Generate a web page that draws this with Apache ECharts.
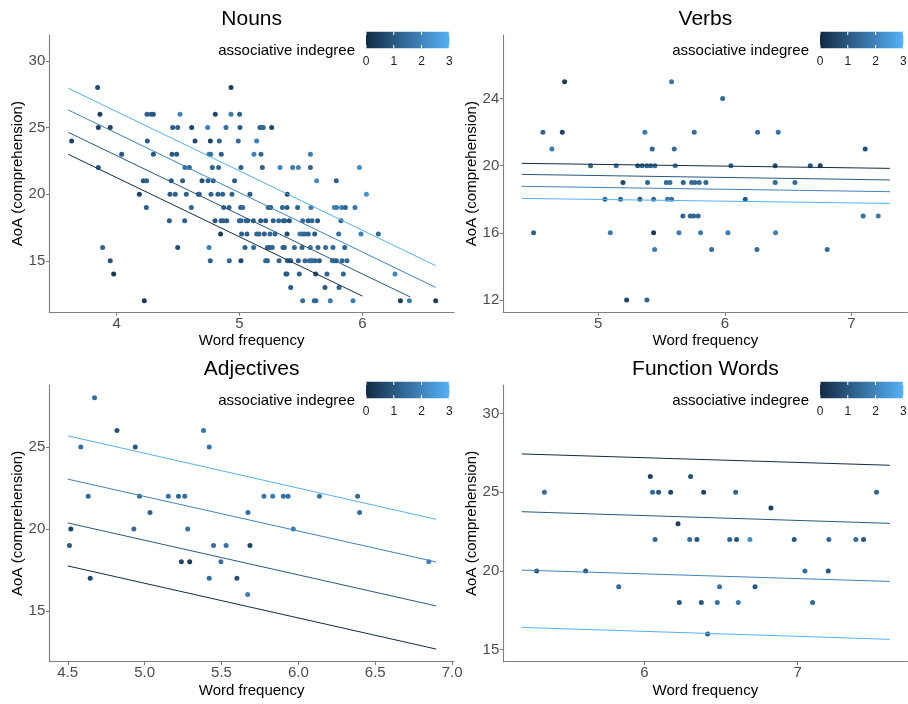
<!DOCTYPE html>
<html>
<head>
<meta charset="utf-8">
<script src="https://cdn.jsdelivr.net/npm/echarts@6/dist/echarts.min.js"></script>
<style>
  html, body { margin: 0; padding: 0; background: #ffffff; }
  #chart { width: 908px; height: 704px; }
</style>
</head>
<body>
<div id="chart"></div>
<script>
// ---- Nouns: AoA levels, word frequency per level, associative indegree per point
const nounsAoALevels = [28, 26, 25, 24, 23, 22, 21, 20, 19, 18, 17, 16, 15, 14, 13, 12];
const nounsFreq = [
  [3.845, 4.931],
  [3.864, 4.247, 4.280, 4.299, 4.516, 4.803, 4.931, 5.001],
  [3.851, 3.948, 4.456, 4.497, 4.611, 4.741, 4.890, 5.004, 5.167, 5.180, 5.194, 5.262],
  [3.634, 4.250, 4.638, 4.763, 4.836, 4.990, 5.140],
  [4.041, 4.299, 4.451, 4.489, 4.752, 4.765, 4.852, 5.118, 5.175, 5.577],
  [3.851, 4.556, 4.592, 4.779, 4.830, 5.012, 5.186, 5.330, 5.433, 5.479, 5.577, 5.976],
  [4.217, 4.244, 4.445, 4.537, 4.695, 4.744, 4.787, 4.960, 5.628, 5.788],
  [4.185, 4.434, 4.477, 4.567, 4.665, 4.673, 4.768, 4.825, 4.863, 4.939, 5.085, 5.389, 6.033],
  [4.242, 4.608, 4.871, 4.915, 5.009, 5.026, 5.235, 5.254, 5.349, 5.387, 5.473, 5.582, 5.772, 5.791, 5.832, 5.862, 5.940],
  [4.429, 4.554, 4.801, 4.850, 4.869, 4.896, 4.999, 5.013, 5.053, 5.067, 5.113, 5.172, 5.213, 5.275, 5.319, 5.357, 5.368, 5.406, 5.514, 5.558, 5.590, 5.636, 5.826],
  [4.846, 5.017, 5.061, 5.140, 5.159, 5.202, 5.248, 5.289, 5.387, 5.492, 5.514, 5.533, 5.560, 5.612, 5.807, 5.989, 6.130],
  [3.886, 4.497, 4.752, 5.045, 5.115, 5.227, 5.243, 5.267, 5.354, 5.365, 5.447, 5.509, 5.577, 5.639, 5.701, 5.761, 5.856],
  [3.948, 4.762, 4.917, 5.012, 5.213, 5.227, 5.322, 5.389, 5.405, 5.417, 5.479, 5.533, 5.569, 5.582, 5.593, 5.615, 5.650, 5.756, 5.770, 5.789, 5.835, 5.875],
  [3.976, 5.378, 5.386, 5.487, 5.620, 5.712, 5.845, 6.266],
  [5.417, 5.696, 5.810],
  [4.225, 5.514, 5.609, 5.622, 5.739, 5.924, 6.310, 6.383, 6.597]
];
const nounsIndegree = [
  [0.8, 0.5],
  [0.5, 1.2, 1.2, 1.0, 2.0, 0.6, 1.8, 1.2],
  [0.5, 0.5, 1.1, 1.2, 0.6, 1.9, 1.5, 1.1, 1.2, 1.3, 1.4, 0.6],
  [0.6, 1.1, 0.7, 0.6, 1.3, 1.5, 1.9],
  [1.0, 1.0, 1.0, 1.0, 1.9, 1.5, 1.1, 1.9, 1.3, 1.8],
  [1.0, 1.6, 1.3, 1.2, 1.3, 1.2, 1.2, 2.0, 1.8, 2.0, 1.3, 2.2],
  [1.0, 1.2, 1.0, 1.2, 0.8, 1.2, 1.2, 1.1, 2.2, 1.2],
  [0.5, 1.1, 1.2, 1.2, 1.2, 1.2, 1.2, 1.2, 1.2, 1.2, 1.0, 0.6, 2.3],
  [1.2, 1.3, 1.3, 1.2, 1.3, 1.4, 1.2, 1.2, 1.4, 1.2, 1.2, 1.8, 2.0, 1.9, 1.8, 1.3, 1.7],
  [1.1, 1.2, 1.0, 1.2, 1.2, 1.1, 1.2, 1.3, 1.4, 1.2, 1.2, 1.1, 1.0, 1.1, 1.3, 1.2, 1.1, 0.8, 1.5, 1.2, 1.3, 1.0, 1.3],
  [0.4, 1.2, 1.2, 1.4, 1.3, 1.2, 1.4, 1.4, 0.8, 1.7, 1.5, 1.4, 1.3, 1.1, 1.5, 1.9, 1.4],
  [1.3, 0.7, 1.9, 1.2, 1.4, 1.3, 1.3, 1.3, 1.2, 1.2, 1.4, 1.3, 1.7, 1.3, 1.5, 1.4, 1.2],
  [0.9, 1.2, 1.4, 0.7, 1.3, 1.3, 1.2, 1.3, 1.2, 1.1, 1.2, 1.3, 1.4, 1.4, 1.5, 1.3, 1.1, 1.3, 1.6, 1.2, 1.3, 1.4],
  [0.3, 1.0, 1.1, 1.2, 0.8, 1.2, 1.3, 2.0],
  [1.0, 1.1, 1.3],
  [0.3, 1.5, 1.4, 1.4, 1.8, 1.8, 0.4, 1.8, 0.4]
];

// ---- Verbs
const verbsAoALevels = [25, 24, 22, 21, 20, 19, 18, 17, 16, 15, 12];
const verbsFreq = [
  [4.734, 5.579],
  [5.982],
  [4.563, 4.716, 5.368, 5.758, 6.258, 6.421],
  [4.634, 5.426, 5.600, 7.108],
  [4.939, 5.142, 5.311, 5.347, 5.384, 5.413, 5.447, 5.608, 6.047, 6.397, 6.674, 6.753],
  [5.195, 5.389, 5.537, 5.566, 5.671, 5.737, 5.763, 5.797, 5.850, 6.397, 6.553],
  [5.053, 5.176, 5.329, 5.437, 5.547, 5.579, 6.161],
  [5.668, 5.726, 5.753, 5.789, 7.092, 7.211],
  [4.489, 5.095, 5.437, 5.637, 5.808, 6.024, 6.400],
  [5.445, 5.895, 6.253, 6.808],
  [5.224, 5.384]
];
const verbsIndegree = [
  [0.4, 1.7],
  [1.4],
  [1.3, 0.5, 1.8, 1.5, 1.5, 1.6],
  [1.8, 1.2, 1.5, 0.8],
  [1.3, 1.5, 1.0, 1.2, 1.3, 1.3, 1.5, 1.6, 1.3, 0.7, 1.0, 0.5],
  [0.6, 1.3, 1.4, 1.5, 1.3, 1.4, 1.4, 1.4, 1.3, 1.4, 1.5],
  [1.5, 1.3, 1.0, 1.4, 1.7, 1.5, 1.0],
  [1.3, 1.4, 1.3, 1.3, 1.6, 1.8],
  [1.3, 1.8, 0.4, 1.8, 1.8, 1.8, 1.9],
  [1.9, 1.5, 1.5, 1.5],
  [0.6, 1.3]
];

// ---- Adjectives
const adjAoALevels = [28, 26, 25, 22, 21, 20, 19, 18, 17, 16];
const adjFreq = [
  [4.674],
  [4.820, 5.383],
  [4.585, 4.939, 5.420],
  [4.633, 4.967, 5.154, 5.220, 5.261, 5.776, 5.833, 5.902, 5.933, 6.137, 6.385],
  [5.035, 5.672, 6.398],
  [4.520, 4.930, 5.280, 5.967],
  [4.511, 5.448, 5.530, 5.685],
  [5.239, 5.293, 5.496, 6.848],
  [4.646, 5.420, 5.600],
  [5.670]
];
const adjIndegree = [
  [1.5],
  [0.9, 1.6],
  [1.5, 1.0, 1.6],
  [1.4, 1.5, 1.6, 1.4, 1.5, 1.7, 1.8, 1.6, 1.5, 1.6, 1.4],
  [1.3, 1.5, 1.5],
  [0.5, 1.5, 1.6, 1.8],
  [1.1, 1.5, 1.6, 0.6],
  [0.6, 0.4, 1.5, 2.0],
  [0.6, 1.5, 0.8],
  [1.9]
];

// ---- Function words
const funcAoALevels = [26, 25, 24, 23, 22, 20, 19, 18, 16];
const funcFreq = [
  [6.039, 6.302],
  [5.348, 6.054, 6.093, 6.172, 6.387, 6.596, 7.515],
  [6.826],
  [6.220],
  [6.070, 6.296, 6.343, 6.557, 6.602, 6.689, 6.978, 7.204, 7.380, 7.430],
  [5.298, 5.617, 7.048, 7.200],
  [5.833, 6.491, 6.722],
  [6.228, 6.372, 6.476, 6.613, 7.098],
  [6.413]
];
const funcIndegree = [
  [0.5, 0.9],
  [1.5, 1.4, 1.0, 0.6, 0.6, 1.3, 1.3],
  [0.4],
  [0.5],
  [1.4, 1.5, 1.0, 1.3, 1.0, 2.2, 1.0, 1.4, 1.5, 1.0],
  [1.0, 1.0, 1.5, 1.0],
  [1.4, 1.6, 1.0],
  [1.0, 1.0, 1.6, 1.8, 1.4],
  [1.2]
];

// ---- Model fits at indegree 0, 1, 2, 3: start/end frequency and predicted AoA
const fitIndegree = [0, 1, 2, 3];
const nounsFitX0 = [3.607, 3.607, 3.607, 3.607];
const nounsFitX1 = [6.000, 6.390, 6.597, 6.597];
const nounsFitY0 = [22.99, 24.64, 26.32, 27.95];
const nounsFitY1 = [12.35, 12.28, 13.00, 14.63];

const verbsFitX0 = [4.395, 4.395, 4.395, 4.395];
const verbsFitX1 = [7.303, 7.303, 7.303, 7.303];
const verbsFitY0 = [20.14, 19.48, 18.77, 18.05];
const verbsFitY1 = [19.84, 19.15, 18.45, 17.75];

const adjFitX0 = [4.500, 4.500, 4.500, 4.500];
const adjFitX1 = [6.896, 6.896, 6.896, 6.896];
const adjFitY0 = [17.75, 20.37, 23.04, 25.68];
const adjFitY1 = [12.68, 15.31, 17.99, 20.59];

const funcFitX0 = [5.200, 5.200, 5.200, 5.200];
const funcFitX1 = [7.602, 7.602, 7.602, 7.602];
const funcFitY0 = [27.44, 23.77, 20.06, 16.42];
const funcFitY1 = [26.72, 23.03, 19.34, 15.66];

// ---- Axis ticks
const nounsXTicks = [4, 5, 6];
const nounsYTicks = [15, 20, 25, 30];
const verbsXTicks = [5, 6, 7];
const verbsYTicks = [12, 16, 20, 24];
const adjXTicks = [4.5, 5.0, 5.5, 6.0, 6.5, 7.0];
const adjYTicks = [15, 20, 25];
const funcXTicks = [6, 7];
const funcYTicks = [15, 20, 25, 30];
const indegreeTicks = [0, 1, 2, 3];
const indegreeMax = 3;

// ---- Styling
const FONT = "'Liberation Sans', Arial, Helvetica, sans-serif";
const LOW = [19, 43, 67];     // #132B43
const HIGH = [86, 177, 247];  // #56B1F7
const AXIS_GREY = '#808080';
const TICK_TEXT = '#4D4D4D';

function indegreeColor(v) {
  const t = Math.max(0, Math.min(1, v / indegreeMax));
  const c = LOW.map((lo, k) => Math.round(lo + (HIGH[k] - lo) * t));
  return 'rgb(' + c.join(',') + ')';
}

function flatten(levels, freq, deg) {
  const pts = [];
  levels.forEach((aoa, r) => {
    freq[r].forEach((f, j) => pts.push([f, aoa, deg[r][j]]));
  });
  return pts;
}

const panels = [
  {
    title: 'Nouns', levels: nounsAoALevels, freq: nounsFreq, deg: nounsIndegree,
    fit: [nounsFitX0, nounsFitX1, nounsFitY0, nounsFitY1],
    xTicks: nounsXTicks, yTicks: nounsYTicks, xFmt: v => String(v),
    xRange: [3.452, 6.746], yRange: [11.13, 31.95],
    box: { left: 49.3, top: 35, width: 404.7, height: 277.3 }
  },
  {
    title: 'Verbs', levels: verbsAoALevels, freq: verbsFreq, deg: verbsIndegree,
    fit: [verbsFitX0, verbsFitX1, verbsFitY0, verbsFitY1],
    xTicks: verbsXTicks, yTicks: verbsYTicks, xFmt: v => String(v),
    xRange: [4.25, 7.442], yRange: [11.26, 27.79],
    box: { left: 503.3, top: 35, width: 404.2, height: 277.3 }
  },
  {
    title: 'Adjectives', levels: adjAoALevels, freq: adjFreq, deg: adjIndegree,
    fit: [adjFitX0, adjFitX1, adjFitY0, adjFitY1],
    xTicks: adjXTicks, yTicks: adjYTicks, xFmt: v => Number(v).toFixed(1),
    xRange: [4.38, 7.012], yRange: [11.91, 28.78],
    box: { left: 49.3, top: 385, width: 404.7, height: 276.7 }
  },
  {
    title: 'Function Words', levels: funcAoALevels, freq: funcFreq, deg: funcIndegree,
    fit: [funcFitX0, funcFitX1, funcFitY0, funcFitY1],
    xTicks: funcXTicks, yTicks: funcYTicks, xFmt: v => String(v),
    xRange: [5.08, 7.717], yRange: [14.24, 31.82],
    box: { left: 503.3, top: 385, width: 404.2, height: 276.7 }
  }
];

const grid = [], xAxis = [], yAxis = [], series = [], graphic = [];

panels.forEach((p, i) => {
  const b = p.box;
  grid.push({ left: b.left, top: b.top, width: b.width, height: b.height, containLabel: false });

  xAxis.push({
    gridIndex: i, type: 'value', min: p.xRange[0], max: p.xRange[1],
    axisLine: { show: true, onZero: false, lineStyle: { color: AXIS_GREY, width: 1.1 } },
    axisTick: { show: true, length: 3.5, customValues: p.xTicks, lineStyle: { color: AXIS_GREY, width: 1.1 } },
    axisLabel: { customValues: p.xTicks, formatter: p.xFmt, fontSize: 15, color: TICK_TEXT, fontFamily: FONT, margin: 4 },
    splitLine: { show: false }
  });
  yAxis.push({
    gridIndex: i, type: 'value', min: p.yRange[0], max: p.yRange[1],
    axisLine: { show: true, onZero: false, lineStyle: { color: AXIS_GREY, width: 1.1 } },
    axisTick: { show: true, length: 3.5, customValues: p.yTicks, lineStyle: { color: AXIS_GREY, width: 1.1 } },
    axisLabel: { customValues: p.yTicks, fontSize: 15, color: TICK_TEXT, fontFamily: FONT, margin: 4 },
    splitLine: { show: false }
  });

  series.push({
    type: 'scatter', xAxisIndex: i, yAxisIndex: i, symbol: 'circle', symbolSize: 5,
    data: flatten(p.levels, p.freq, p.deg),
    itemStyle: { color: params => indegreeColor(params.value[2]), opacity: 1 },
    silent: true, z: 2
  });

  const [x0, x1, y0, y1] = p.fit;
  fitIndegree.forEach((d, k) => {
    series.push({
      type: 'line', xAxisIndex: i, yAxisIndex: i, symbol: 'none', showSymbol: false,
      data: [[x0[k], y0[k]], [x1[k], y1[k]]],
      lineStyle: { color: indegreeColor(d), width: 1 },
      silent: true, z: 3
    });
  });

  // panel title
  graphic.push({
    type: 'text', x: b.left + b.width / 2, y: b.top - 16,
    style: { text: p.title, font: '21px ' + FONT, fill: '#000000', align: 'center', verticalAlign: 'middle' }
  });
  // axis titles
  graphic.push({
    type: 'text', x: b.left + b.width / 2, y: b.top + b.height + 28.7,
    style: { text: 'Word frequency', font: '15px ' + FONT, fill: '#000000', align: 'center', verticalAlign: 'middle' }
  });
  graphic.push({
    type: 'text', x: b.left - 31, y: b.top + b.height / 2, rotation: Math.PI / 2,
    style: { text: 'AoA (comprehension)', font: '15px ' + FONT, fill: '#000000', align: 'center', verticalAlign: 'middle' }
  });

  // colour bar legend
  const barX = b.left + 316.7, barY = b.top - 3.3, barW = 83.3, barH = 16.6;
  graphic.push({
    type: 'text', x: b.left + 305.7, y: b.top + 15.7,
    style: { text: 'associative indegree', font: '15px ' + FONT, fill: '#000000', align: 'right', verticalAlign: 'middle' }
  });
  graphic.push({
    type: 'rect', shape: { x: barX, y: barY, width: barW, height: barH },
    style: {
      fill: {
        type: 'linear', x: 0, y: 0, x2: 1, y2: 0,
        colorStops: [
          { offset: 0, color: indegreeColor(0) },
          { offset: 0.5, color: indegreeColor(indegreeMax / 2) },
          { offset: 1, color: indegreeColor(indegreeMax) }
        ]
      }
    }
  });
  indegreeTicks.forEach(t => {
    const tx = barX + barW * t / indegreeMax;
    graphic.push({ type: 'line', shape: { x1: tx, y1: barY, x2: tx, y2: barY + barH / 5 }, style: { stroke: '#ffffff', lineWidth: 1 } });
    graphic.push({ type: 'line', shape: { x1: tx, y1: barY + barH - barH / 5, x2: tx, y2: barY + barH }, style: { stroke: '#ffffff', lineWidth: 1 } });
    graphic.push({
      type: 'text', x: tx, y: b.top + 26.7,
      style: { text: String(t), font: '12px ' + FONT, fill: '#1A1A1A', align: 'center', verticalAlign: 'middle' }
    });
  });
});

const chart = echarts.init(document.getElementById('chart'), null, { renderer: 'canvas' });
chart.setOption({
  backgroundColor: '#ffffff',
  animation: false,
  grid, xAxis, yAxis, series, graphic
});
</script>
</body>
</html>
